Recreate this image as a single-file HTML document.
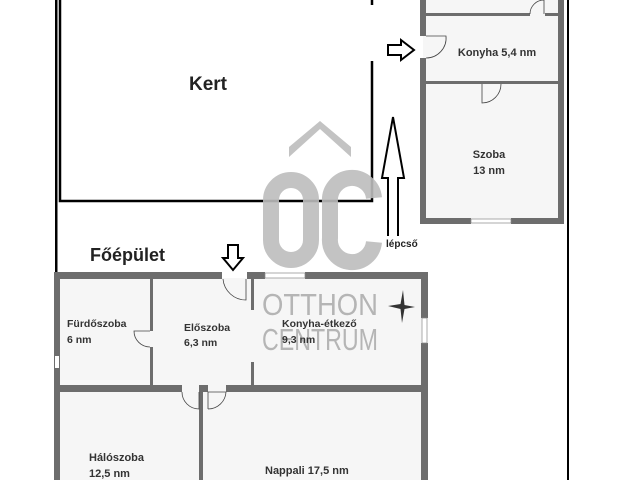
<!DOCTYPE html>
<html><head><meta charset="utf-8"><style>
body{margin:0;background:#fff;width:640px;height:480px;overflow:hidden}
svg{display:block}
text{font-family:"Liberation Sans",sans-serif;fill:#222}
.r{font-weight:bold;fill:#333}
</style></head><body>
<svg width="640" height="480" viewBox="0 0 640 480">
<rect x="0" y="0" width="640" height="480" fill="#fff"/>
<rect x="55" y="0" width="2.5" height="480" fill="#000"/>
<rect x="567" y="0" width="2" height="480" fill="#000"/>
<path d="M60 0 V201 H372 V61 M372 0 V5" fill="none" stroke="#000" stroke-width="2.5"/>
<text x="208" y="90" font-size="19" font-weight="bold" text-anchor="middle">Kert</text>
<!-- annex -->
<rect x="423" y="0" width="138" height="221" fill="#f6f6f6"/>
<g fill="#6d6d6d">
<rect x="420" y="0" width="6" height="36"/>
<rect x="420" y="58" width="6" height="166"/>
<rect x="558" y="0" width="6" height="224"/>
<rect x="420" y="218" width="51" height="6"/>
<rect x="511" y="218" width="53" height="6"/>
<rect x="426" y="13" width="104" height="3"/>
<rect x="545" y="13" width="13" height="3"/>
<rect x="426" y="81" width="132" height="3"/>
</g>
<rect x="471" y="219" width="40" height="4" fill="#fff" stroke="#888" stroke-width="0.7"/>
<path d="M530 14 A14 14 0 0 1 544 0 V14" fill="none" stroke="#444" stroke-width="0.8"/>
<path d="M426 36 H446 A20 20 0 0 1 426 58" fill="none" stroke="#444" stroke-width="0.8"/>
<path d="M482 84 V103 A19 19 0 0 0 501 84 V84" fill="none" stroke="#444" stroke-width="0.8"/>
<text class="r" x="497" y="56" font-size="11" text-anchor="middle">Konyha 5,4 nm</text>
<text class="r" x="489" y="158" font-size="11" text-anchor="middle">Szoba</text>
<text class="r" x="489" y="174" font-size="11" text-anchor="middle">13 nm</text>
<!-- watermark -->
<g opacity="0.9">
<path d="M289 157 L320 129 L351 157 V147 L320 121 L289 147 Z" fill="#bdbdbd"/>
<rect x="271" y="180" width="40" height="80" rx="20" fill="none" stroke="#bdbdbd" stroke-width="16"/>
<path d="M374 198 A22 22 0 0 0 330 202 V238 A22 22 0 0 0 374 242" fill="none" stroke="#bdbdbd" stroke-width="16"/>
</g>
<!-- arrows -->
<path d="M388 45 H401 V40 L414 50 L401 60 V55 H388 Z" fill="#fff" stroke="#000" stroke-width="2"/>
<path d="M388 236 V178 H382 L393 117 L404 178 H398 V236" fill="none" stroke="#000" stroke-width="2"/>
<text x="386" y="247" font-size="10" font-weight="bold">lépcső</text>
<path d="M228 245 H238 V258 H243 L233 270 L223 258 H228 Z" fill="#fff" stroke="#000" stroke-width="2"/>
<text x="90" y="261" font-size="18" font-weight="bold">Főépület</text>
<!-- main building -->
<rect x="57" y="278" width="367" height="202" fill="#f6f6f6"/>
<g fill="#6d6d6d">
<rect x="54" y="272" width="168" height="7"/>
<rect x="247" y="272" width="18" height="7"/>
<rect x="305" y="272" width="123" height="7"/>
<rect x="54" y="272" width="6" height="208"/>
<rect x="421" y="272" width="7" height="46"/>
<rect x="421" y="343" width="7" height="137"/>
<rect x="150" y="279" width="3" height="52"/>
<rect x="150" y="347" width="3" height="40"/>
<rect x="251" y="279" width="3" height="31"/>
<rect x="251" y="362" width="3" height="25"/>
<rect x="60" y="385" width="122" height="7"/>
<rect x="199" y="385" width="9" height="7"/>
<rect x="226" y="385" width="195" height="7"/>
<rect x="199" y="392" width="4" height="88"/>
</g>
<rect x="265" y="273" width="40" height="5" fill="#fff" stroke="#888" stroke-width="0.7"/>
<rect x="422" y="318" width="5" height="25" fill="#fff" stroke="#888" stroke-width="0.7"/>
<rect x="55" y="356" width="4" height="12" fill="#fff"/>
<path d="M246 279 V300 A23 23 0 0 1 223 279" fill="none" stroke="#444" stroke-width="0.8"/>
<path d="M150 331 H134 A16 16 0 0 0 150 347" fill="none" stroke="#444" stroke-width="0.8"/>
<path d="M182 392 A17 17 0 0 0 199 409 V392" fill="none" stroke="#444" stroke-width="0.8"/>
<path d="M208 409 V392 H226 A18 18 0 0 1 208 409" fill="none" stroke="#444" stroke-width="0.8"/>
<text x="262" y="315" font-size="31" style="fill:#b5b5b5" textLength="116" lengthAdjust="spacingAndGlyphs">OTTHON</text>
<text x="262" y="350" font-size="31" style="fill:#b5b5b5" textLength="116" lengthAdjust="spacingAndGlyphs">CENTRUM</text>
<text class="r" x="67" y="327" font-size="10.5">Fürdőszoba</text>
<text class="r" x="67" y="343" font-size="10.5">6 nm</text>
<text class="r" x="184" y="331" font-size="10.5">Előszoba</text>
<text class="r" x="184" y="346" font-size="10.5">6,3 nm</text>
<text class="r" x="282" y="327" font-size="10.5">Konyha-étkező</text>
<text class="r" x="282" y="343" font-size="10.5">9,3 nm</text>
<text class="r" x="89" y="461" font-size="11">Hálószoba</text>
<text class="r" x="89" y="477" font-size="11">12,5 nm</text>
<text class="r" x="265" y="474" font-size="11">Nappali 17,5 nm</text>
<!-- compass -->
<path d="M403 290 L404.5 305 L415 307 L404.5 309 L402 323 L400.5 309 L388 306 L400.5 304 Z" fill="#333"/>
</svg>
</body></html>
